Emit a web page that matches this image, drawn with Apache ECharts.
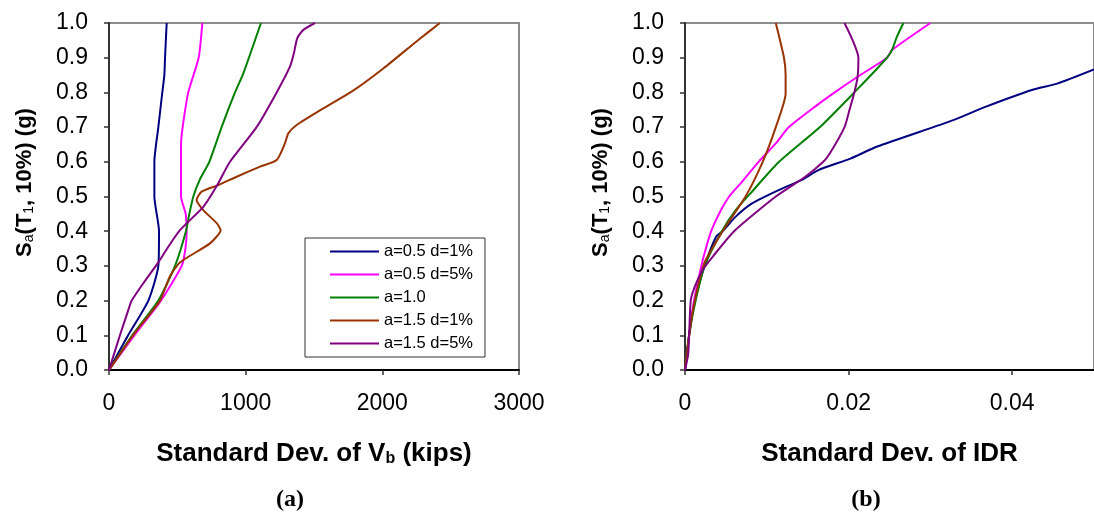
<!DOCTYPE html>
<html>
<head>
<meta charset="utf-8">
<script src="https://cdn.jsdelivr.net/npm/echarts@6/dist/echarts.min.js"></script>
<style>
html,body{margin:0;padding:0;background:#fff;}
#chart{width:1094px;height:521px;}
</style>
</head>
<body>
<div id="chart"></div>
<script>
// ---- Data ----
const seriesNames = ['a=0.5 d=1%', 'a=0.5 d=5%', 'a=1.0', 'a=1.5 d=1%', 'a=1.5 d=5%'];
const seriesColors = ['#000080', '#FF00FF', '#008000', '#993300', '#800080'];

const yTicks = [0, 0.1, 0.2, 0.3, 0.4, 0.5, 0.6, 0.7, 0.8, 0.9, 1.0];
const xTicksA = [0, 1000, 2000, 3000];
const xTicksB = [0, 0.02, 0.04];

// (a) Standard dev. of Vb (kips) vs Sa
const vbBlue = [[0,0],[140,0.1],[288,0.2],[361,0.3],[366,0.4],[332,0.5],[332,0.6],[361,0.7],[390,0.8],[405,0.85],[410,0.9],[422,1.0]];
const vbMagenta = [[0,0],[185,0.1],[380,0.2],[532,0.3],[559,0.35],[568,0.4],[561,0.45],[527,0.5],[527,0.6],[527,0.65],[539,0.7],[580,0.8],[656,0.9],[683,1.0]];
const vbGreen = [[0,0],[170,0.1],[361,0.2],[483,0.3],[563,0.4],[588,0.45],[617,0.5],[666,0.55],[734,0.6],[824,0.7],[922,0.8],[983,0.855],[1112,1.0]];
const vbBrown = [[0,0],[175,0.1],[373,0.2],[446,0.27],[519,0.31],[739,0.365],[817,0.403],[788,0.423],[690,0.461],[641,0.49],[678,0.514],[800,0.533],[934,0.557],[1105,0.586],[1227,0.605],[1287,0.653],[1312,0.682],[1373,0.706],[1568,0.754],[1775,0.802],[2007,0.869],[2263,0.951],[2421,1.0]];
const vbPurple = [[0,0],[80,0.1],[149,0.182],[166,0.2],[251,0.25],[361,0.31],[434,0.355],[519,0.403],[690,0.47],[788,0.53],[885,0.6],[1080,0.7],[1227,0.8],[1324,0.874],[1353,0.913],[1377,0.956],[1421,0.98],[1507,1.0]];

// (b) Standard dev. of IDR vs Sa
const idrBlue = [[0,0],[0.0005,0.1],[0.0012,0.2],[0.0024,0.3],[0.0038,0.384],[0.0046,0.4],[0.0062,0.442],[0.0082,0.48],[0.0115,0.519],[0.0143,0.548],[0.0163,0.576],[0.0203,0.61],[0.0235,0.644],[0.0328,0.72],[0.0368,0.759],[0.0424,0.807],[0.0456,0.826],[0.05,0.866]];
const idrMagenta = [[0,0],[0.0005,0.1],[0.0011,0.2],[0.002,0.3],[0.0025,0.346],[0.0032,0.4],[0.0044,0.461],[0.0054,0.5],[0.0068,0.538],[0.009,0.6],[0.0111,0.653],[0.0127,0.7],[0.0159,0.759],[0.0183,0.8],[0.0211,0.845],[0.0247,0.9],[0.0253,0.922],[0.03,1.0]];
const idrGreen = [[0,0],[0.0005,0.1],[0.0013,0.2],[0.0024,0.3],[0.0045,0.4],[0.0062,0.461],[0.008,0.509],[0.0115,0.6],[0.0165,0.7],[0.0207,0.8],[0.0235,0.869],[0.0247,0.9],[0.0253,0.922],[0.0259,0.96],[0.0267,1.0]];
const idrBrown = [[0,0],[0.0005,0.1],[0.0012,0.2],[0.0024,0.31],[0.0046,0.4],[0.0074,0.5],[0.0095,0.6],[0.0111,0.7],[0.0123,0.797],[0.0123,0.85],[0.0121,0.9],[0.0111,1.0]];
const idrPurple = [[0,0],[0.0004,0.048],[0.0007,0.2],[0.0012,0.24],[0.0022,0.29],[0.0034,0.327],[0.006,0.4],[0.0111,0.5],[0.0147,0.557],[0.0169,0.6],[0.0177,0.624],[0.0195,0.7],[0.0201,0.749],[0.0207,0.8],[0.0211,0.845],[0.0212,0.9],[0.0205,0.95],[0.0195,1.0]];

const vbData = [vbBlue, vbMagenta, vbGreen, vbBrown, vbPurple];
const idrData = [idrBlue, idrMagenta, idrGreen, idrBrown, idrPurple];

// ---- Chart ----
const chart = echarts.init(document.getElementById('chart'), null, {renderer: 'canvas'});
const FONT = 'Liberation Sans, Arial, sans-serif';

const yName = '{m|S}{s|a}{m|(T}{s|1}{m|, 10%) (g)}';
const nameRich = {
  m: {fontSize: 22, fontWeight: 'bold', fontFamily: FONT, color: '#000'},
  s: {fontSize: 14, fontWeight: 'normal', fontFamily: FONT, color: '#000', verticalAlign: 'bottom'}
};

function yAxis(gridIndex) {
  return {
    type: 'value', gridIndex, min: 0, max: 1, interval: 0.1,
    name: yName, nameLocation: 'middle', nameGap: 73,
    nameTextStyle: {rich: nameRich, padding: [0, 0, 0, 28]},
    axisLine: {show: true, lineStyle: {color: '#333', width: 2}},
    axisTick: {show: true, inside: false, length: 5, lineStyle: {color: '#333', width: 1.5}},
    axisLabel: {fontSize: 23, fontFamily: FONT, color: '#000', margin: 21,
      formatter: v => yTicks.includes(Math.round(v*10)/10) ? v.toFixed(1) : ''},
    splitLine: {show: false}
  };
}

const option = {
  backgroundColor: '#fff',
  animation: false,
  grid: [
    {left: 109, top: 23, width: 410, height: 347, show: true, borderColor: '#8c8c8c', borderWidth: 2, containLabel: false},
    {left: 685, top: 23, width: 414.5, height: 347, show: true, borderColor: '#8c8c8c', borderWidth: 2, containLabel: false}
  ],
  legend: {
    show: true,
    data: seriesNames,
    orient: 'vertical',
    left: 305, top: 238,
    icon: 'rect', itemWidth: 49, itemHeight: 2, itemGap: 6,
    padding: [5, 12, 5, 25],
    borderColor: '#333', borderWidth: 1, backgroundColor: '#fff',
    textStyle: {fontSize: 16.5, fontFamily: FONT, color: '#000', lineHeight: 17},
    selectedMode: false
  },
  xAxis: [
    {
      type: 'value', gridIndex: 0, min: 0, max: 3000, interval: 1000,
      name: 'Standard Dev. of V{s|b} (kips)', nameLocation: 'middle', nameGap: 71,
      nameTextStyle: {fontSize: 26, fontWeight: 'bold', fontFamily: FONT, color: '#000',
        rich: {s: {fontSize: 16, fontWeight: 'bold', fontFamily: FONT, color: '#000', verticalAlign: 'bottom'}}},
      axisLine: {show: true, lineStyle: {color: '#000', width: 2}},
      axisTick: {show: true, length: 5, lineStyle: {color: '#333', width: 1.5}},
      axisLabel: {fontSize: 23, fontFamily: FONT, color: '#000', margin: 22,
        formatter: v => xTicksA.includes(v) ? String(v) : ''},
      splitLine: {show: false}
    },
    {
      type: 'value', gridIndex: 1, min: 0, max: 0.05, interval: 0.02,
      name: 'Standard Dev. of IDR', nameLocation: 'middle', nameGap: 71,
      nameTextStyle: {fontSize: 26, fontWeight: 'bold', fontFamily: FONT, color: '#000'},
      axisLine: {show: true, lineStyle: {color: '#000', width: 2}},
      axisTick: {show: true, length: 5, lineStyle: {color: '#333', width: 1.5}},
      axisLabel: {fontSize: 23, fontFamily: FONT, color: '#000', margin: 22, showMaxLabel: false,
        formatter: v => {
          const r = Math.round(v * 1000) / 1000;
          return xTicksB.includes(r) ? String(r) : '';
        }},
      splitLine: {show: false}
    }
  ],
  yAxis: [yAxis(0), yAxis(1)],
  graphic: [
    {type: 'text', x: 290, y: 500, style: {text: '(a)', font: 'bold 24px "Liberation Serif", "Times New Roman", serif', fill: '#000', textAlign: 'center', textVerticalAlign: 'middle'}},
    {type: 'text', x: 866, y: 500, style: {text: '(b)', font: 'bold 24px "Liberation Serif", "Times New Roman", serif', fill: '#000', textAlign: 'center', textVerticalAlign: 'middle'}}
  ],
  series: []
};

seriesNames.forEach((name, i) => {
  option.series.push({
    name, type: 'line', xAxisIndex: 0, yAxisIndex: 0, data: vbData[i],
    symbol: 'none', smooth: 0.2, lineStyle: {color: seriesColors[i], width: 2},
    itemStyle: {color: seriesColors[i]}, clip: true
  });
  option.series.push({
    name, type: 'line', xAxisIndex: 1, yAxisIndex: 1, data: idrData[i],
    symbol: 'none', smooth: 0.2, lineStyle: {color: seriesColors[i], width: 2},
    itemStyle: {color: seriesColors[i]}, clip: true
  });
});

chart.setOption(option);
</script>
</body>
</html>
